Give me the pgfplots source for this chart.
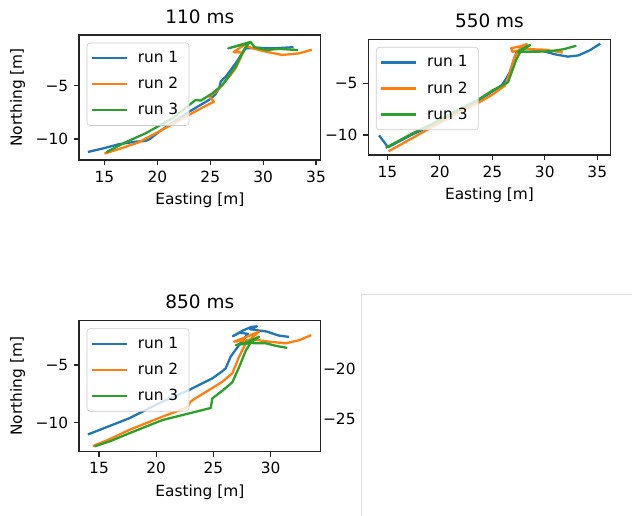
\documentclass[border=0pt]{standalone}
\usepackage{fontspec}
\setmainfont{DejaVu Sans}
\usepackage{pgfplots}
\pgfplotsset{compat=1.18}
\definecolor{c0}{HTML}{1F77B4}
\definecolor{c1}{HTML}{FF7F0E}
\definecolor{c2}{HTML}{2CA02C}
\tikzset{ln/.style={line width=1.5pt, line join=round, line cap=rect}}
\pgfplotsset{
  traj/.style={
    scale only axis, anchor=north west,
    axis line style={line width=0.8pt, black!85},
    tick style={line width=0.8pt, black!85},
    tick align=outside, major tick length=3.5pt,
    xtick pos=left, ytick pos=left,
    tick label style={font=\fontsize{10}{12}\selectfont},
    label style={font=\fontsize{10}{12}\selectfont},
    title style={font=\fontsize{12}{14}\selectfont, yshift=-2pt},
    /pgf/number format/assume math mode=true,
    legend cell align=left,
    legend style={at={(0,1)}, anchor=north west, xshift=5pt, yshift=-5pt,
      draw=black!20, rounded corners=2pt, fill=white, fill opacity=0.8, text opacity=1,
      font=\fontsize{10}{12}\selectfont, inner xsep=3pt, inner ysep=1.5pt,
      nodes={font=\fontsize{10}{12}\selectfont, inner xsep=4pt, inner ysep=4pt},
      /tikz/every odd column/.append style={column sep=3pt}},
    legend image code/.code={\draw[#1] (0pt,0pt) -- (21.5pt,0pt);},
    yticklabels={−10,−5}, ytick={-10,-5},
  }
}
\begin{document}
\begin{tikzpicture}
\useasboundingbox (0,0) rectangle (410.8pt,335.4pt);
% ---------- 110 ms
\begin{axis}[traj, at={(51.35pt,312.65pt)}, width=157.1pt, height=81.25pt,
  xmin=12.59, xmax=35.44, ymin=-11.97, ymax=-0.25,
  xtick={15,20,25,30,35},
  title={110 ms}, xlabel={Easting [m]}, ylabel={Northing [m]}]
\addplot[c0, ln, mark=none] coordinates {(13.54,-11.19) (14.8,-10.9) (16.37,-10.49) (18.0,-10.25) (18.9,-10.18) (19.3,-10.0) (20.2,-9.3) (21.1,-8.68) (23.0,-7.44) (24.88,-6.34) (25.5,-5.8) (25.83,-5.25) (26.0,-4.6) (26.46,-4.16) (27.4,-2.9) (28.0,-2.0) (28.35,-1.5) (29.5,-1.45) (31.0,-1.5) (32.76,-1.4)};
\addlegendentry{run 1}
\addplot[c1, ln, mark=none] coordinates {(15.1,-11.34) (16.5,-10.9) (18.26,-10.3) (19.2,-9.8) (20.15,-9.31) (22.67,-7.9) (25.04,-6.65) (25.35,-6.5) (24.9,-6.0) (25.5,-5.6) (26.14,-4.94) (27.0,-3.9) (27.4,-3.37) (28.1,-1.9) (27.2,-1.85) (28.2,-1.2) (29.0,-1.5) (30.24,-1.81) (31.8,-2.12) (33.4,-1.97) (34.5,-1.66)};
\addlegendentry{run 2}
\addplot[c2, ln, mark=none] coordinates {(15.26,-11.19) (17.0,-10.3) (18.9,-9.46) (21.41,-8.06) (23.62,-6.34) (24.1,-6.4) (25.2,-5.72) (26.14,-4.94) (27.4,-3.22) (28.2,-1.6) (28.66,-1.0) (27.5,-1.3) (26.7,-1.5) (28.8,-0.9) (29.2,-1.4) (30.3,-1.66) (31.5,-1.55) (33.2,-1.66)};
\addlegendentry{run 3}
\end{axis}
% ---------- 550 ms
\begin{axis}[traj, at={(239.4pt,309.86pt)}, width=157.56pt, height=75.2pt,
  xmin=13.19, xmax=36.28, ymin=-11.94, ymax=-0.74,
  xtick={15,20,25,30,35},
  title={550 ms}, xlabel={Easting [m]}]
\addplot[c0, ln, mark=none] coordinates {(14.28,-10.13) (15.07,-11.19) (17.3,-10.0) (19.5,-8.94) (21.5,-7.8) (23.64,-6.68) (25.0,-5.8) (25.86,-5.23) (26.3,-4.6) (26.66,-3.93) (27.3,-2.0) (27.76,-1.68) (28.5,-1.7) (29.67,-1.84) (31.0,-2.2) (32.2,-2.42) (33.2,-2.3) (34.3,-1.8) (35.2,-1.22)};
\addlegendentry{run 1}
\addplot[c1, ln, mark=none] coordinates {(15.23,-11.52) (17.4,-10.3) (19.5,-9.1) (21.5,-8.0) (23.64,-6.9) (25.0,-6.1) (26.2,-5.23) (26.6,-4.2) (27.15,-2.36) (27.6,-1.8) (26.9,-1.95) (26.8,-1.6) (27.8,-1.39) (28.3,-1.2) (27.4,-1.5) (28.5,-1.7) (30.0,-1.75) (31.6,-2.0)};
\addlegendentry{run 2}
\addplot[c2, ln, mark=none] coordinates {(14.94,-11.19) (17.3,-9.9) (19.5,-8.8) (21.5,-7.7) (23.64,-6.6) (25.0,-5.7) (26.5,-4.9) (27.0,-3.5) (27.3,-2.68) (27.8,-1.7) (28.3,-1.4) (28.6,-1.3) (28.0,-1.7) (27.4,-1.95) (29.0,-1.95) (30.5,-1.9) (31.8,-1.7) (32.9,-1.39)};
\addlegendentry{run 3}
\end{axis}
% ---------- partial panel
\begin{axis}[scale only axis, anchor=south west, at={(234.65pt,-5pt)},
  width=185pt, height=149.1pt,
  xmin=0, xmax=1, ymin=-35.44, ymax=-12.5,
  xtick=\empty, ytick={-20,-25}, yticklabels={−20,−25},
  major tick length=0pt,
  tick label style={font=\fontsize{10}{12}\selectfont},
  axis line style={black!12, line width=0.6pt}]
\end{axis}
% ---------- 850 ms
\begin{axis}[traj, at={(51.35pt,126.95pt)}, width=157.1pt, height=85.15pt,
  xmin=13.25, xmax=34.37, ymin=-12.52, ymax=-1.16,
  xtick={15,20,25,30},
  title={850 ms}, xlabel={Easting [m]}, ylabel={Northing [m]}]
\addplot[c0, ln, mark=none] coordinates {(14.12,-10.99) (15.9,-10.3) (17.62,-9.63) (20.53,-8.18) (22.87,-7.17) (24.9,-6.16) (25.7,-5.6) (26.07,-5.29) (26.5,-4.28) (27.24,-3.27) (28.0,-2.3) (27.3,-2.2) (26.7,-2.5) (27.6,-2.0) (28.3,-1.7) (28.8,-1.65) (28.2,-1.9) (29.66,-2.1) (30.7,-2.45) (31.5,-2.55)};
\addlegendentry{run 1}
\addplot[c1, ln, mark=none] coordinates {(14.56,-12.0) (16.0,-11.4) (17.62,-10.64) (20.53,-9.49) (22.72,-8.67) (23.0,-8.18) (23.4,-7.9) (24.9,-7.0) (25.78,-6.45) (26.65,-5.72) (27.24,-4.28) (27.82,-3.12) (28.98,-2.11) (27.8,-2.6) (26.8,-2.98) (28.5,-2.8) (29.86,-2.98) (31.3,-3.12) (32.5,-2.85) (33.45,-2.45)};
\addlegendentry{run 2}
\addplot[c2, ln, mark=none] coordinates {(14.71,-12.03) (16.0,-11.6) (17.62,-10.93) (20.53,-9.78) (24.76,-8.73) (24.9,-7.9) (25.78,-7.23) (26.65,-6.5) (27.24,-5.2) (27.82,-3.76) (28.3,-3.0) (28.98,-2.55) (28.0,-3.0) (26.95,-3.27) (28.3,-3.1) (29.57,-3.12) (30.5,-3.35) (31.35,-3.5)};
\addlegendentry{run 3}
\end{axis}
\end{tikzpicture}
\end{document}
